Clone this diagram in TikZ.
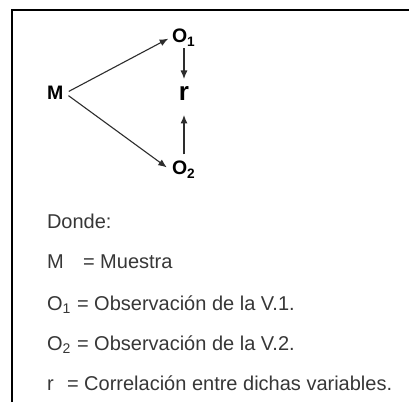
\documentclass[tikz,border=0pt]{standalone}
\usepackage{fontspec}
\setmainfont{Liberation Sans}
\usetikzlibrary{arrows.meta}

\begin{document}
\begin{tikzpicture}[x=1pt,y=1pt,
  sym/.style={font=\fontsize{19.5}{22}\selectfont\bfseries,anchor=base west,inner sep=2pt,outer sep=0pt},
  txt/.style={font=\fontsize{20}{24}\selectfont,text=textColor,anchor=base west,inner sep=0pt,outer sep=0pt},
  link/.style={draw=lineColor,line width=1.1pt,-{Latex[length=8.5pt,width=7pt]}}]
\definecolor{lineColor}{RGB}{45,45,45}
\definecolor{textColor}{RGB}{55,55,55}
\path[use as bounding box,fill=white] (0,0) rectangle (409,402);

% frame (only top and left edges show)
\path[draw=black,line width=2pt] (12,0) -- (12,392) -- (409,392);

% scheme
\node[sym] (M) at (45,302) {M};
\node[sym] (O1) at (170,359) {O\textsubscript{1}};
\node[sym,anchor=base,font=\fontsize{26}{30}\selectfont\bfseries] (r) at (184,301) {r};
\node[sym] (O2) at (170,227) {O\textsubscript{2}};

\draw[link,shorten <=4pt,shorten >=2pt] (M.east) -- (O1.west);
\draw[link,shorten <=4pt,shorten >=4pt] (M.east) -- (O2.west);
\draw[link,shorten >=6pt] (r |- O1.south) -- (r.north);
\draw[link,shorten <=5pt,shorten >=12pt] (r |- O2.north) -- (r.south);

% legend
\node[txt] (donde) at (47,174) {Donde:};
\node[txt] (lM) at (47,134) {M};
\node[txt] (eM) at (83,134) {= Muestra};
\node[txt] (lO1) at (47,92) {O\textsubscript{1}};
\node[txt] (eO1) at (77,92) {= Observación de la V.1.};
\node[txt] (lO2) at (47,52) {O\textsubscript{2}};
\node[txt] (eO2) at (77,52) {= Observación de la V.2.};
\node[txt] (lr) at (47,12) {r};
\node[txt] (er) at (67,12) {= Correlación entre dichas variables.};
\end{tikzpicture}
\end{document}
